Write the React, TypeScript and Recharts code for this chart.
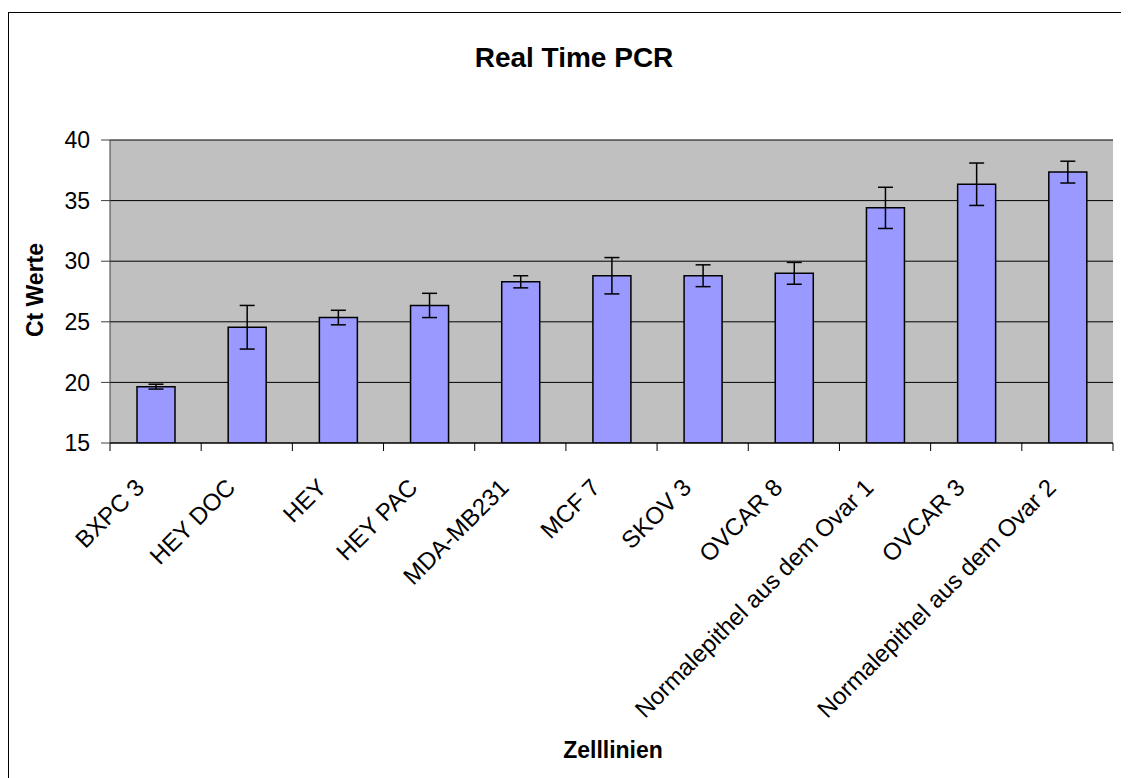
import React from "react";
import { BarChart, Bar, XAxis, YAxis, CartesianGrid, ErrorBar } from "recharts";

// Zelllinien (x-Achse)
const cellLines = [
  "BXPC 3",
  "HEY DOC",
  "HEY",
  "HEY PAC",
  "MDA-MB231",
  "MCF 7",
  "SKOV 3",
  "OVCAR 8",
  "Normalepithel aus dem Ovar 1",
  "OVCAR 3",
  "Normalepithel aus dem Ovar 2",
];
// mittlere Ct Werte
const ctValues = [19.65, 24.55, 25.35, 26.35, 28.3, 28.8, 28.8, 29.0, 34.4, 36.35, 37.35];
// Fehlerbalken (+/-)
const ctErrors = [0.2, 1.8, 0.6, 1.0, 0.5, 1.5, 0.9, 0.9, 1.7, 1.75, 0.9];
const yTicks = [15, 20, 25, 30, 35, 40];

const FONT = "'Liberation Sans', Arial, sans-serif";

const data = cellLines.map((name, i) => ({ name, ct: ctValues[i], err: ctErrors[i] }));

// Excel-artige Achsenbeschriftung: Striche zwischen den Kategorien, Text um 45° gedreht
const CellTick = (props: any) => {
  const { x, y, payload, index } = props;
  const off = payload && payload.offset ? payload.offset : 45.6;
  const last = index === cellLines.length - 1;
  const tx = x - 10;
  const ty = y + 46;
  return (
    <g>
      <line x1={x - off} y1={y} x2={x - off} y2={y + 8} stroke="#000" />
      {last && <line x1={x + off} y1={y} x2={x + off} y2={y + 8} stroke="#000" />}
      <text
        x={tx}
        y={ty}
        textAnchor="end"
        transform={`rotate(-45, ${tx}, ${ty})`}
        fontFamily={FONT}
        fontSize={24}
        fill="#000"
      >
        {payload.value}
      </text>
    </g>
  );
};

export default function App() {
  return (
    <div
      style={{
        position: "relative",
        marginTop: 4,
        width: 1120,
        height: 765,
        borderTop: "1px solid #000",
        borderLeft: "1px solid #000",
        background: "#fff",
      }}
    >
      <style>{`html, body { overflow: hidden; }`}</style>
      <BarChart
        width={1120}
        height={765}
        data={data}
        margin={{ top: 127, right: 16, left: 0, bottom: 35 }}
        barSize={38}
      >
        <CartesianGrid
          vertical={false}
          horizontal={true}
          stroke="#000"
          strokeOpacity={1}
          fill="#C0C0C0"
          fillOpacity={1}
        />
        <XAxis
          dataKey="name"
          height={300}
          interval={0}
          tickLine={false}
          tickSize={0}
          tickMargin={0}
          axisLine={{ stroke: "#000" }}
          tick={<CellTick />}
        />
        <YAxis
          width={101}
          domain={[15, 40]}
          ticks={yTicks}
          interval={0}
          allowDataOverflow
          tickSize={9}
          tickMargin={11}
          axisLine={{ stroke: "#404040" }}
          tickLine={{ stroke: "#404040" }}
          tick={{ fontFamily: FONT, fontSize: 23, fill: "#000" }}
        />
        <YAxis
          yAxisId="rechts"
          orientation="right"
          width={0}
          tick={false}
          tickLine={false}
          axisLine={{ stroke: "#808080" }}
        />
        <Bar dataKey="ct" fill="#9999FF" stroke="#000" strokeWidth={1.5} isAnimationActive={false}>
          <ErrorBar dataKey="err" width={7.5} stroke="#000" strokeWidth={1.5} direction="y" />
        </Bar>
      </BarChart>
      <svg
        width={1120}
        height={765}
        style={{ position: "absolute", left: 0, top: 0, pointerEvents: "none" }}
      >
        <text x={565} y={54} textAnchor="middle" fontFamily={FONT} fontWeight="bold" fontSize={28}>
          Real Time PCR
        </text>
        <text
          x={33.5}
          y={277}
          textAnchor="middle"
          transform="rotate(-90, 33.5, 277)"
          fontFamily={FONT}
          fontWeight="bold"
          fontSize={23}
        >
          Ct Werte
        </text>
        <text x={604} y={744.5} textAnchor="middle" fontFamily={FONT} fontWeight="bold" fontSize={23}>
          Zelllinien
        </text>
      </svg>
    </div>
  );
}
